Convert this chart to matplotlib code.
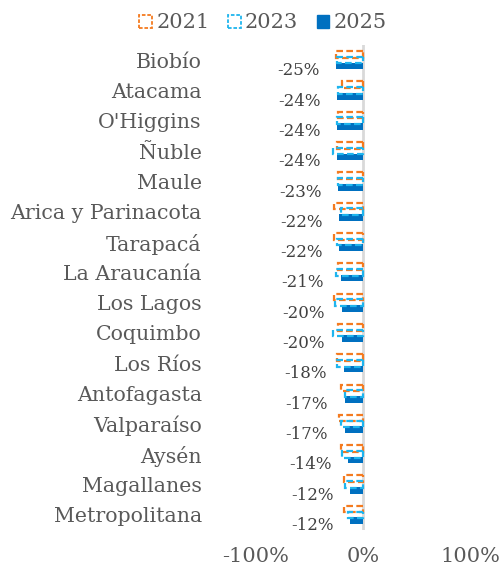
import matplotlib
matplotlib.use("Agg")
import matplotlib.pyplot as plt
from matplotlib.patches import Patch
import numpy as np

regions = ["Biobío", "Atacama", "O'Higgins", "Ñuble", "Maule", "Arica y Parinacota",
           "Tarapacá", "La Araucanía", "Los Lagos", "Coquimbo", "Los Ríos",
           "Antofagasta", "Valparaíso", "Aysén", "Magallanes", "Metropolitana"]
v2021 = [-25, -20, -23, -24, -23, -27, -27, -23, -27, -23, -24, -21, -22, -21, -18, -18]
v2023 = [-24, -23, -24, -28, -23, -21, -24, -25, -26, -28, -24, -17, -21, -20, -17, -14]
v2025 = [-25, -24, -24, -24, -23, -22, -22, -21, -20, -20, -18, -17, -17, -14, -12, -12]
series_names = ["2021", "2023", "2025"]
xticks = [-100, 0, 100]

C21 = "#F47B20"
C23 = "#1FB5EE"
C25 = "#0070C0"
TXT = "#595959"

plt.rcParams['font.family'] = ['DejaVu Serif']

fig = plt.figure(figsize=(5.01, 5.68), dpi=100)
ax = fig.add_axes([256/501, 1-530/568, 214/501, 485/568])

y = np.arange(len(regions))
h = 0.22
off = 0.19
ax.barh(y + off, v2025, height=h, color=C25, zorder=2)
ax.barh(y - off, v2021, height=h, facecolor='none', edgecolor=C21,
        linestyle=(0, (3, 1.5)), linewidth=1.6, zorder=3)
ax.barh(y, v2023, height=h, facecolor='none', edgecolor=C23,
        linestyle=(0, (3, 1.5)), linewidth=1.6, zorder=3)

for yi, v in zip(y, v2025):
    ax.annotate(f"{v}%", xy=(v, yi + off), xytext=(-12, -3.5),
                textcoords='offset points', ha='right', va='center',
                fontsize=12, color="#404040")

ax.axvline(0, color="#D9D9D9", linewidth=2, zorder=1)
ax.set_xlim(-100, 100)
ax.set_ylim(len(regions) - 0.5, -0.5)
ax.set_xticks(xticks)
ax.set_xticklabels([f"{t}%" for t in xticks], fontsize=15, color=TXT)
ax.set_yticks(y)
ax.set_yticklabels(regions, fontsize=14.8, color=TXT)
ax.tick_params(axis='y', length=0, pad=39)
ax.tick_params(axis='x', length=0, pad=12)
for s in ax.spines.values():
    s.set_visible(False)

handles = [Patch(facecolor='none', edgecolor=C21, linestyle=(0, (2, 1)), linewidth=1.3),
           Patch(facecolor='none', edgecolor=C23, linestyle=(0, (2, 1)), linewidth=1.3),
           Patch(facecolor=C25, edgecolor=C25)]
fig.legend(handles, series_names, loc='center', bbox_to_anchor=(263/501, 1-23/568),
           ncol=3, frameon=False, fontsize=15, labelcolor=TXT,
           handlelength=0.6, handleheight=0.6, handletextpad=0.2, columnspacing=0.9)

fig.savefig("out.png", dpi=100)
